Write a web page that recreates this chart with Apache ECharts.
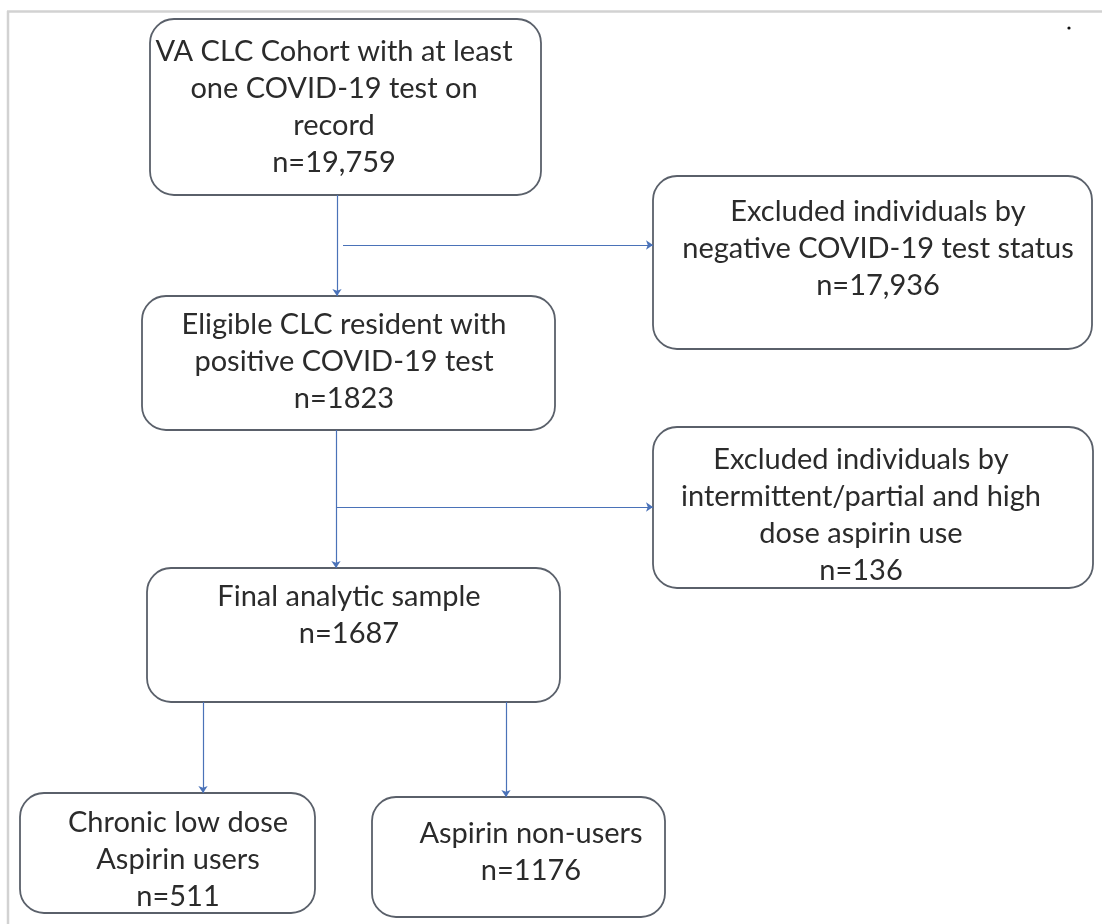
<!DOCTYPE html>
<html>
<head>
<meta charset="utf-8">
<script src="https://cdn.jsdelivr.net/npm/echarts@6/dist/echarts.min.js"></script>
<style>
  html, body { margin: 0; padding: 0; background: #fff; }
  #chart { width: 1102px; height: 924px; }
</style>
</head>
<body>
<div id="chart"></div>
<script>
// box texts and counts
var boxText = [
  'VA CLC Cohort with at least\none COVID-19 test on\nrecord',
  'Excluded individuals by\nnegative COVID-19 test status',
  'Eligible CLC resident with\npositive COVID-19 test',
  'Excluded individuals by\nintermittent/partial and high\ndose aspirin use',
  'Final analytic sample',
  'Chronic low dose\nAspirin users',
  'Aspirin non-users'
];
var boxCount = ['19,759', '17,936', '1823', '136', '1687', '511', '1176'];

// layout: [left, top, right, bottom, textX, textY]
var boxLayout = [
  [150, 19, 541, 195, 334, 107],
  [653, 176, 1092, 349, 878, 249],
  [142, 296, 555, 430, 344, 362],
  [653, 427, 1093, 588, 861, 515],
  [147, 568, 560, 702, 349, 615],
  [20, 793, 315, 913, 178, 860],
  [372, 797, 665, 917, 531, 852]
];

// connectors [x1, y1, x2, y2]
var links = [
  [337, 195, 337, 296],
  [343, 245, 653, 245],
  [336, 430, 336, 568],
  [336, 507, 653, 507],
  [203, 702, 203, 793],
  [506, 702, 506, 797]
];

var boxData = boxText.map(function (t, i) {
  return boxLayout[i].concat([i]);
});

var chart = echarts.init(document.getElementById('chart'));
chart.setOption({
  animation: false,
  grid: { left: 0, right: 0, top: 0, bottom: 0 },
  xAxis: { type: 'value', min: 0, max: 1102, show: false },
  yAxis: { type: 'value', min: 0, max: 924, inverse: true, show: false },
  graphic: [
    { type: 'line', shape: { x1: 7, y1: 11.5, x2: 1102, y2: 11.5 }, style: { stroke: '#d2d2d2', lineWidth: 2.5 } },
    { type: 'line', shape: { x1: 8, y1: 11, x2: 8, y2: 924 }, style: { stroke: '#d2d2d2', lineWidth: 2.5 } },
    { type: 'circle', shape: { cx: 1069, cy: 28, r: 1.6 }, style: { fill: '#111' } }
  ],
  series: [
    {
      type: 'custom',
      coordinateSystem: 'cartesian2d',
      data: boxData,
      encode: { x: [0, 2], y: [1, 3] },
      renderItem: function (params, api) {
        var i = api.value(6);
        var p0 = api.coord([api.value(0), api.value(1)]);
        var p1 = api.coord([api.value(2), api.value(3)]);
        var tc = api.coord([api.value(4), api.value(5)]);
        return {
          type: 'group',
          children: [
            {
              type: 'rect',
              shape: { x: p0[0], y: p0[1], width: p1[0] - p0[0], height: p1[1] - p0[1], r: 24 },
              style: { fill: '#fff', stroke: '#5a606a', lineWidth: 1.8 }
            },
            {
              type: 'text',
              x: tc[0], y: tc[1],
              style: {
                text: boxText[i] + '\nn=' + boxCount[i],
                fill: '#2b2b2b',
                font: '29px Lato',
                lineHeight: 37,
                align: 'center',
                verticalAlign: 'middle'
              }
            }
          ]
        };
      }
    },
    {
      type: 'lines',
      coordinateSystem: 'cartesian2d',
      symbol: ['none', 'arrow'],
      symbolSize: 7,
      lineStyle: { color: '#4a72b8', width: 1.2, opacity: 1 },
      data: links.map(function (l) {
        return { coords: [[l[0], l[1]], [l[2], l[3]]] };
      })
    }
  ]
});
</script>
</body>
</html>
